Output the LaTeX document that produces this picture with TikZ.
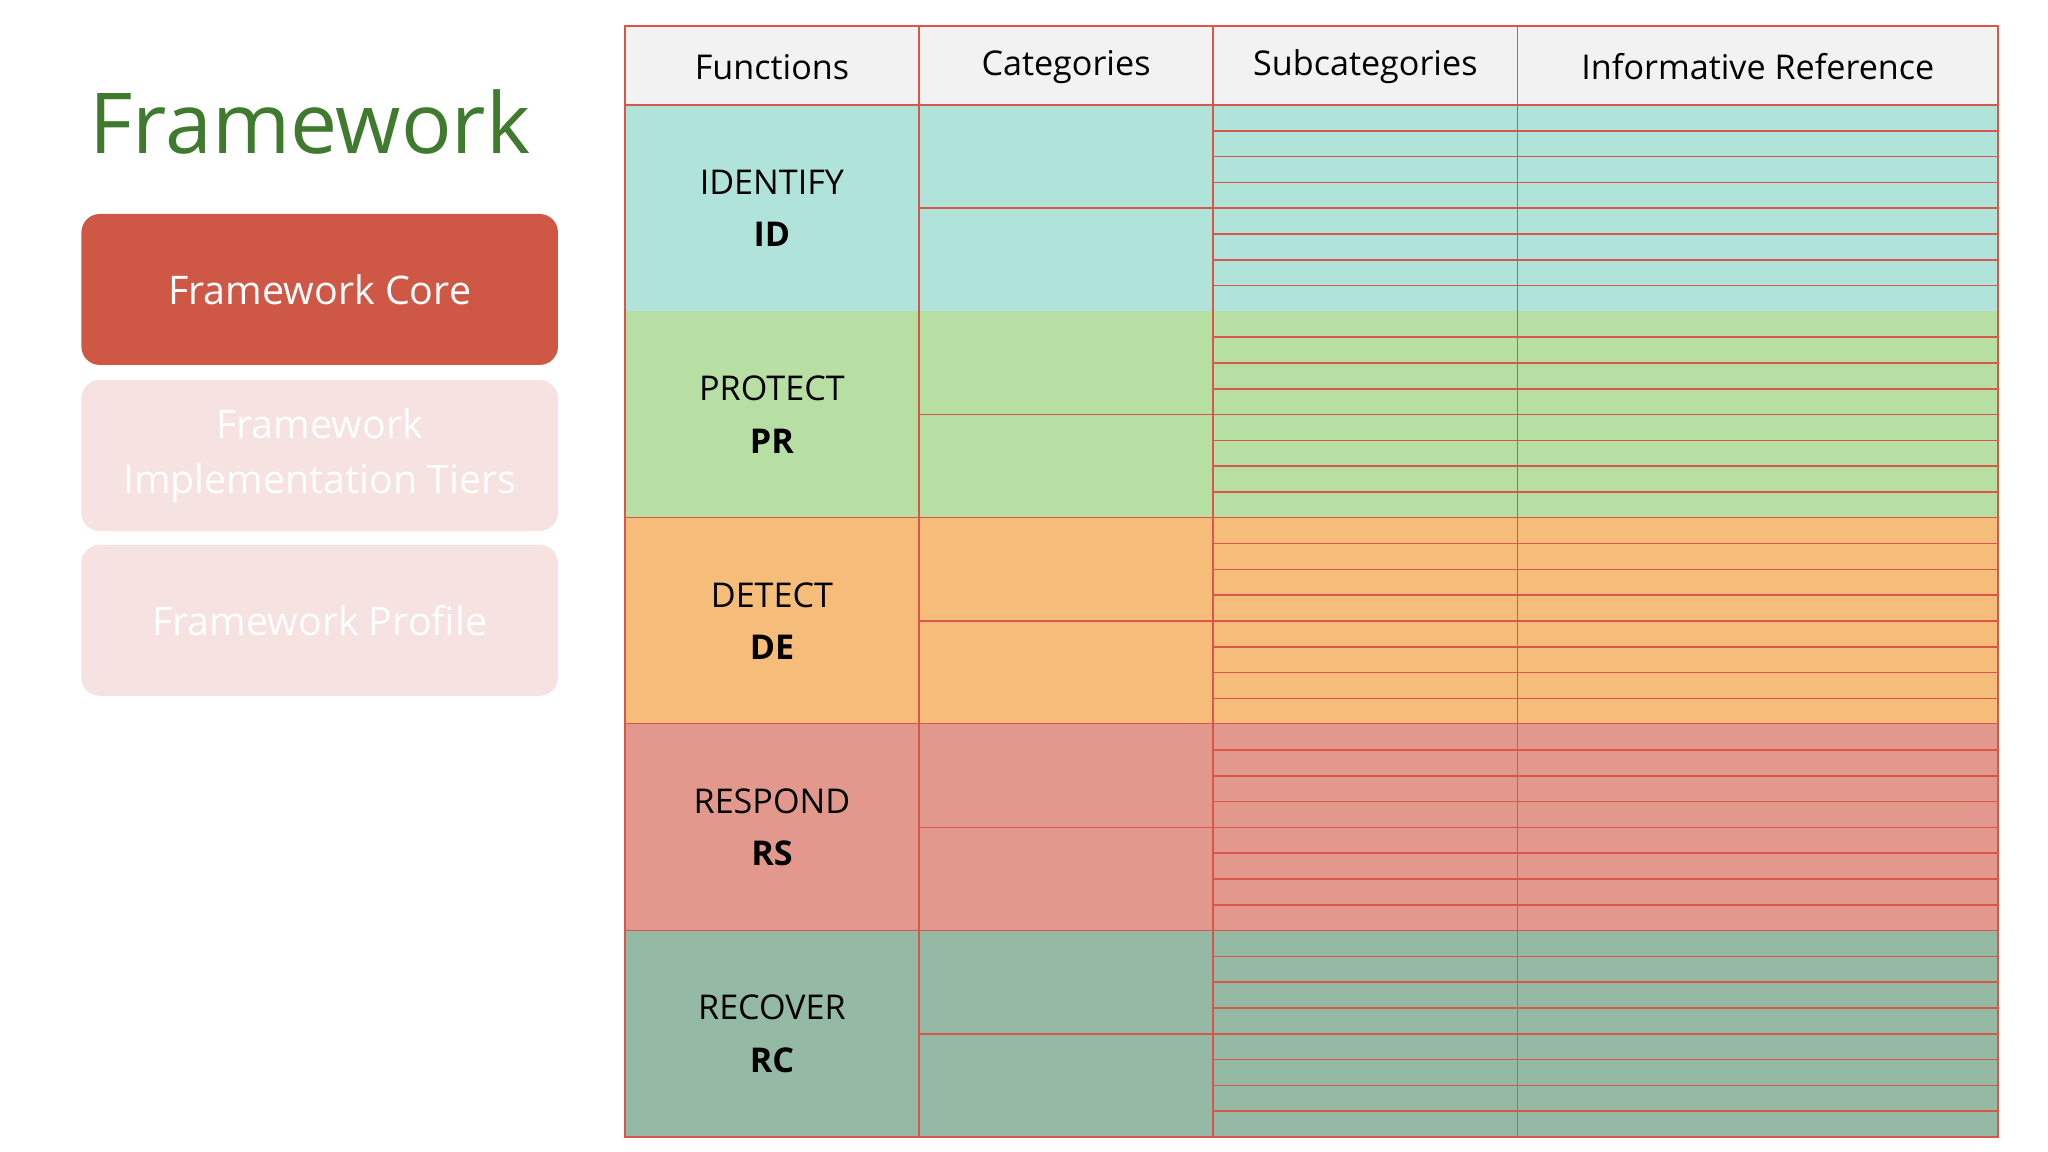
\documentclass[tikz,border=0pt]{standalone}
\usepackage{fontspec}
\setmainfont{Open Sans}
\definecolor{lred}{HTML}{D9574A}
\definecolor{cId}{HTML}{B0E3D9}
\definecolor{cPr}{HTML}{B7DFA4}
\definecolor{cDe}{HTML}{F5BC7A}
\definecolor{cRs}{HTML}{E3988D}
\definecolor{cRc}{HTML}{94B9A4}
\definecolor{hdr}{HTML}{F2F2F2}
\definecolor{ttl}{HTML}{3F7A2E}
\definecolor{core}{HTML}{CF5745}
\definecolor{faded}{HTML}{F6E2E1}
\tikzset{
 hd/.style={font=\fontsize{26}{30}\selectfont, anchor=center},
 fn/.style={font=\fontsize{26}{40}\selectfont, align=center, anchor=center},
 sidebox/.style={rounded corners=14pt, minimum width=363pt, minimum height=115pt, text=white, align=center, font=\fontsize{30}{42}\selectfont},
 grid/.style={draw=lred, line width=1.2pt}
}
\begin{document}
\begin{tikzpicture}[x=1pt,y=-1pt]
\useasboundingbox (0,0) rectangle (1560,877.5);
\fill[white] (0,0) rectangle (1560,877.5);
\node[text=ttl, font=\fontsize{64}{70}\selectfont, anchor=center] (title) at (236,93) {Framework};
\node[sidebox, fill=core] (coreb) at (243.5,220.5) {Framework Core};
\node[sidebox, fill=faded] (tiers) at (243.5,347) {Framework\\Implementation Tiers};
\node[sidebox, fill=faded] (prof) at (243.5,472.5) {Framework Profile};
% header
\fill[hdr] (476,20) rectangle (1522,80);
\node[hd] (h1) at (588,51) {Functions};
\node[hd] (h2) at (812,51) {Categories};
\node[hd] (h3) at (1040,51) {Subcategories};
\node[hd] (h4) at (1339,51) {Informative Reference};
\def\rh{157.2}
\foreach \i/\c/\n/\a in {0/cId/IDENTIFY/ID,1/cPr/PROTECT/PR,2/cDe/DETECT/DE,3/cRs/RESPOND/RS,4/cRc/RECOVER/RC}{
  \pgfmathsetmacro\yt{80+\i*\rh}
  \pgfmathsetmacro\yb{80+(\i+1)*\rh}
  \pgfmathsetmacro\ym{80+(\i+0.5)*\rh}
  \fill[\c] (476,\yt) rectangle (1522,\yb);
  \draw[grid] (700,\ym) -- (924,\ym);
  \foreach \k in {1,...,7}{
    \pgfmathsetmacro\yk{\yt+\k*\rh/8}
    \draw[grid] (924,\yk) -- (1522,\yk);
  }
  \draw[grid] (476,\yb) -- (1522,\yb);
  \node[fn] (f\i) at (588,\ym) {\n\\\textbf{\a}};
}
\draw[grid] (476,20) rectangle (1522,866);
\draw[grid] (476,80) -- (1522,80);
\foreach \x in {700,924,1156} \draw[grid] (\x,20) -- (\x,866);
\end{tikzpicture}
\end{document}
